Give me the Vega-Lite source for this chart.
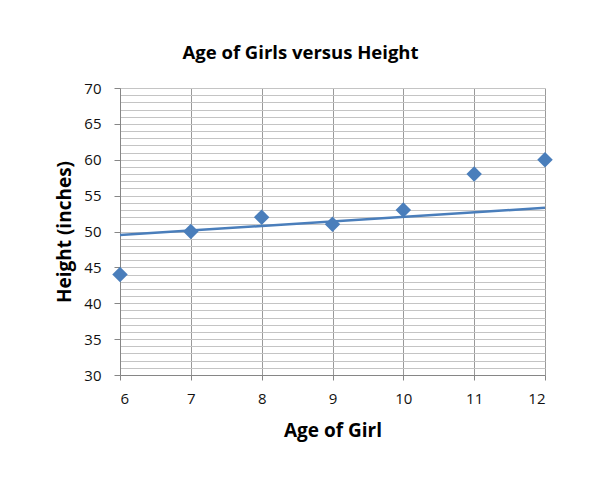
{
  "$schema": "https://vega.github.io/schema/vega-lite/v6.json",
  "width": 425,
  "height": 287,
  "autosize": {"type": "none"},
  "padding": {"left": 120, "top": 88, "right": 55, "bottom": 122},
  "background": "white",
  "title": {
    "text": "Age of Girls versus Height",
    "font": "Open Sans",
    "fontSize": 18.5,
    "fontWeight": "bold",
    "color": "#000000",
    "anchor": "middle",
    "offset": 19,
    "dx": -32
  },
  "config": {
    "view": {"stroke": null},
    "axis": {
      "labelFont": "Open Sans",
      "labelFontSize": 15,
      "labelColor": "#111111",
      "titleFont": "Open Sans",
      "titleFontSize": 19,
      "titleFontWeight": "bold",
      "titleColor": "#000000",
      "domainColor": "#868686",
      "tickColor": "#868686",
      "gridColor": "#c4c4c4",
      "gridWidth": 1,
      "labelOverlap": false
    }
  },
  "datasets": {
    "points": [
      {"age": 6, "height": 44},
      {"age": 7, "height": 50},
      {"age": 8, "height": 52},
      {"age": 9, "height": 51},
      {"age": 10, "height": 53},
      {"age": 11, "height": 58},
      {"age": 12, "height": 60}
    ],
    "trend": [
      {"age": 6, "height": 49.5},
      {"age": 12, "height": 53.3}
    ]
  },
  "layer": [
    {
      "data": {"name": "trend"},
      "mark": {"type": "line", "color": "#4a7ebb", "strokeWidth": 2.5},
      "encoding": {
        "x": {
          "field": "age", "type": "quantitative",
          "scale": {"domain": [6, 12], "nice": false, "zero": false},
          "axis": {
            "title": "Age of Girl",
            "values": [6, 7, 8, 9, 10, 11, 12],
            "tickCount": 7,
            "format": "d",
            "gridColor": "#9a9a9a",
            "tickSize": 5,
            "labelPadding": 11,
            "titlePadding": 15
          }
        },
        "y": {
          "field": "height", "type": "quantitative",
          "scale": {"domain": [30, 70], "nice": false, "zero": false},
          "axis": {
            "title": "Height (inches)",
            "values": [30,31,32,33,34,35,36,37,38,39,40,41,42,43,44,45,46,47,48,49,50,51,52,53,54,55,56,57,58,59,60,61,62,63,64,65,66,67,68,69,70],
            "tickCount": 41,
            "format": "d",
            "labelExpr": "datum.value % 5 === 0 ? datum.label : ''",
            "tickOpacity": {"condition": {"test": "datum.value % 5 === 0", "value": 1}, "value": 0},
            "tickSize": 6,
            "labelPadding": 13,
            "titlePadding": 9
          }
        }
      }
    },
    {
      "data": {"name": "points"},
      "mark": {"type": "point", "shape": "diamond", "filled": true, "size": 240, "color": "#4a7ebb", "opacity": 1},
      "encoding": {
        "x": {"field": "age", "type": "quantitative"},
        "y": {"field": "height", "type": "quantitative"}
      }
    }
  ]
}
